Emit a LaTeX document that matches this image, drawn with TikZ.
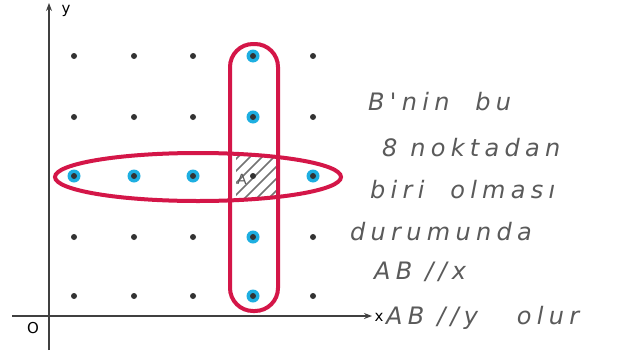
\documentclass[tikz,border=0pt]{standalone}
\usepackage{fontspec}
\setmainfont{DejaVu Sans}
\newfontfamily\handfont[LetterSpace=22]{DejaVu Sans}
\usetikzlibrary{arrows.meta}
\definecolor{loopred}{RGB}{212,22,72}
\definecolor{dotblue}{RGB}{30,175,225}
\definecolor{pen}{RGB}{90,90,90}
\tikzset{
  gdot/.style={circle,fill=black!80,inner sep=0pt,minimum size=6pt},
  bdot/.style={circle,fill=dotblue,inner sep=0pt,minimum size=13pt},
  loop/.style={draw=loopred,line width=4pt},
  axis/.style={draw=black!75,line width=1.1pt,-{Stealth[length=8pt,width=6pt]}},
  hand/.style={font=\handfont\itshape\fontsize{24}{24}\selectfont,text=pen,anchor=west,inner sep=0pt},
}
\begin{document}
\begin{tikzpicture}[x=1pt,y=-1pt]
\useasboundingbox (0,0) rectangle (620,356);
\fill[white] (0,0) rectangle (620,356);
% hatched square
\begin{scope}
  \clip (236,156) rectangle (278,199);
  \foreach \k in {-40,-28,...,60}
    \draw[black!55,line width=1.6pt] (230+\k,205) -- (290+\k,145);
\end{scope}
% blue points
\foreach \p in {(74,176),(134,176),(193,176),(313,176),(253,56),(253,117),(253,237),(253,296)}
  \node[bdot] at \p {};
% grid dots
\foreach \x in {74,134,193,253,313}
  \foreach \y in {56,117,176,237,296}
    \node[gdot] at (\x,\y) {};
\node[font=\fontsize{14}{14}\selectfont,text=pen] (A) at (242,179) {A};
% loops
\draw[loop] (198,177) ellipse [x radius=143,y radius=24];
\draw[loop,rounded corners=23] (230,44) rectangle (278,311);
% axes
\coordinate (xs) at (12,316); \coordinate (xe) at (372,316);
\coordinate (ys) at (49,350); \coordinate (ye) at (49,3);
\draw[axis] (xs) -- (xe);
\draw[axis] (ys) -- (ye);
\node[font=\fontsize{15}{15}\selectfont] (xl) at (379,317) {x};
\node[font=\fontsize{15}{15}\selectfont] (yl) at (66,11) {y};
\node[font=\fontsize{15}{15}\selectfont] (O) at (33,328) {O};
% text
\node[hand] (t1) at (368,102) {B'nin\ \ bu};
\node[hand] (t2) at (382,148) {8\ noktadan};
\node[hand] (t3) at (370,190) {biri\ \ olması};
\node[hand] (t4) at (350,232) {durumunda};
\node[hand] (t5) at (374,272) {AB\ //x};
\node[hand] (t6) at (386,318) {AB\ //y\ \ \ olur};
\end{tikzpicture}
\end{document}
